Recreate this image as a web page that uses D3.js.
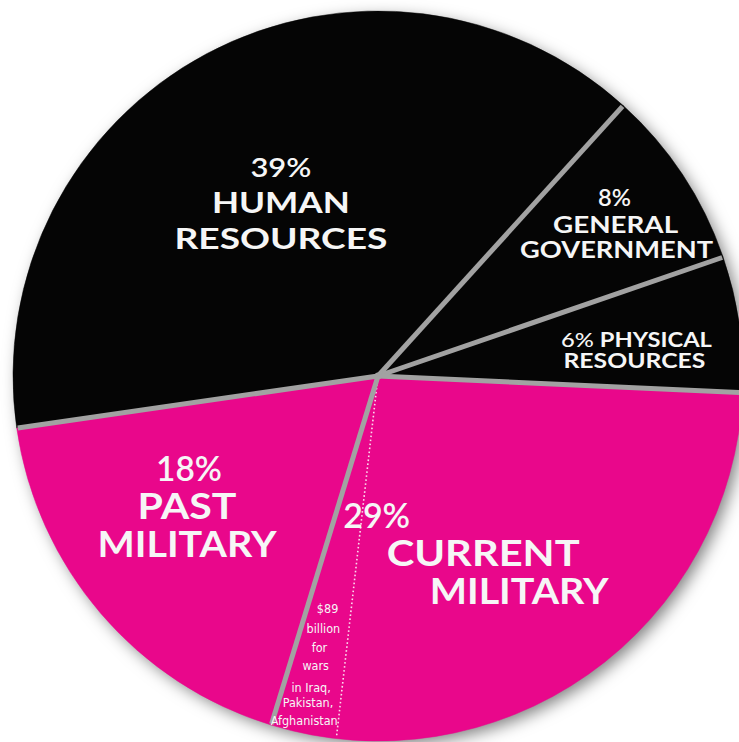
<!DOCTYPE html>
<html>
<head>
<meta charset="utf-8">
<script src="https://cdn.jsdelivr.net/npm/d3@7"></script>
<style>
  html, body { margin: 0; padding: 0; background: #fff; }
  svg { display: block; }
  text { font-family: 'Lato', 'Open Sans', sans-serif; fill: #f6f6f6; }
  .small { font-family: 'Liberation Sans Narrow', 'DejaVu Sans Condensed', 'Roboto', sans-serif; font-stretch: condensed; }
</style>
</head>
<body>
<svg></svg>
<script>
// where the federal income tax dollar goes (percent of total)
const categories = ['HUMAN RESOURCES', 'GENERAL GOVERNMENT', 'PHYSICAL RESOURCES', 'CURRENT MILITARY', 'PAST MILITARY']
const percents = [39, 8, 6, 29, 18]
const groups = ['civil', 'civil', 'civil', 'military', 'military']
// part of current military spent on the wars
const warsBillions = 89
const warsShare = 2.9
const warsNote = [`$${warsBillions}`, 'billion', 'for', 'wars', 'in Iraq,', 'Pakistan,', 'Afghanistan']

const width = 739, height = 742
const cx = 378, cy = 376, R = 365
const startDeg = 261.8
const rad = d => d * Math.PI / 180

const colors = { civil: '#050505', military: '#e9078b' }

const svg = d3.select('svg')
  .attr('width', width)
  .attr('height', height)

const defs = svg.append('defs')
const shadow = defs.append('filter').attr('id', 'shadow')
  .attr('x', '-10%').attr('y', '-10%').attr('width', '120%').attr('height', '120%')
shadow.append('feDropShadow')
  .attr('dx', 5).attr('dy', 5).attr('stdDeviation', 8)
  .attr('flood-color', '#000').attr('flood-opacity', 0.5)

const g = svg.append('g').attr('transform', `translate(${cx},${cy})`)

const data = categories.map((c, i) => ({ name: c, value: percents[i], group: groups[i] }))

const pie = d3.pie()
  .sort(null)
  .value(d => d.value)
  .startAngle(rad(startDeg))
  .endAngle(rad(startDeg) + 2 * Math.PI)

const arcs = pie(data)
const arc = d3.arc().innerRadius(0).outerRadius(R)

// disc behind everything carries the shadow
g.append('circle').attr('r', R - 1).attr('fill', '#000').attr('filter', 'url(#shadow)')

g.selectAll('path.slice')
  .data(arcs).enter().append('path')
  .attr('class', 'slice')
  .attr('d', arc)
  .attr('fill', d => colors[d.data.group])
  .attr('stroke', d => colors[d.data.group])
  .attr('stroke-width', 0.5)

// wars wedge sits at the end of current military
const cur = arcs[3]
const warsStart = cur.endAngle - warsShare / 100 * 2 * Math.PI
const pt = (a, r) => [r * Math.sin(a), -r * Math.cos(a)]

g.append('line')
  .attr('x1', 0).attr('y1', 0)
  .attr('x2', pt(warsStart, R - 2)[0]).attr('y2', pt(warsStart, R - 2)[1])
  .attr('stroke', '#fff')
  .attr('stroke-opacity', 0.85)
  .attr('stroke-width', 1.6)
  .attr('stroke-dasharray', '1.6 2.4')

// grey separators
g.selectAll('line.sep')
  .data(arcs).enter().append('line')
  .attr('class', 'sep')
  .attr('x1', 0).attr('y1', 0)
  .attr('x2', d => pt(d.startAngle, R - 1)[0])
  .attr('y2', d => pt(d.startAngle, R - 1)[1])
  .attr('stroke', '#a2a2a2')
  .attr('stroke-width', 5)
g.append('circle').attr('r', 3.5).attr('fill', '#a2a2a2')

// labels: anchor at centroid of a label ring, lines offset from there
// w = width the line is stretched to (the original face is wide)
const labels = [
  { k: 0.52, dx: -8, dy: 5, lines: [
    { t: '39%', y: -36, s: 26, fw: 600, w: 61 },
    { t: 'HUMAN', y: 0, s: 29, fw: 700, w: 138 },
    { t: 'RESOURCES', y: 36, s: 29, fw: 700, w: 213 }] },
  { k: 0.76, dx: 6, dy: 9.5, lines: [
    { t: '8%', y: -27, s: 22, fw: 600, x: -1, w: 33 },
    { t: 'GENERAL', y: 0, s: 23, fw: 700, w: 125 },
    { t: 'GOVERNMENT', y: 25, s: 23, fw: 700, x: 1, w: 193 }] },
  { k: 0.707, dx: 3, dy: 18, lines: [
    { t: 'PHYSICAL', pre: '6% ', y: -10, s: 20, fw: 700, w: 151 },
    { t: 'RESOURCES', y: 11, s: 20, fw: 700, x: -2, w: 142 }] },
  { k: 0.595, dx: -20, dy: 13, lines: [
    { t: '29%', y: -38, s: 35, fw: 600, x: -140, anchor: 'start', w: 67 },
    { t: 'CURRENT', y: 0, s: 36, fw: 700, w: 193 },
    { t: 'MILITARY', y: 38, s: 36, fw: 700, x: 36, w: 179 }] },
  { k: 0.655, dx: -9.5, dy: -12.5, lines: [
    { t: '18%', y: -38, s: 35, fw: 600, x: 2, w: 66 },
    { t: 'PAST', y: 0, s: 36, fw: 700, w: 99 },
    { t: 'MILITARY', y: 38, s: 36, fw: 700, w: 179 }] }
]

labels.forEach((lab, i) => {
  const a = arcs[i]
  const ring = d3.arc().innerRadius(R * lab.k).outerRadius(R * lab.k)
  const [ax, ay] = ring.centroid(a)
  lab.lines.forEach(l => {
    const txt = g.append('text')
      .attr('x', ax + lab.dx + (l.x || 0))
      .attr('y', ay + lab.dy + l.y)
      .attr('text-anchor', l.anchor || 'middle')
      .attr('font-size', l.s)
      .attr('font-weight', l.fw)
      .attr('textLength', l.w)
      .attr('lengthAdjust', 'spacingAndGlyphs')
    if (l.pre) txt.append('tspan').attr('font-weight', 500).text(l.pre)
    txt.append('tspan').text(l.t)
  })
})

// small note inside the wars wedge, centred on its middle angle
const warsMid = (warsStart + cur.endAngle) / 2
const noteY = [237, 257, 276, 294, 316, 331, 349]
g.selectAll('text.small')
  .data(warsNote).enter().append('text')
  .attr('class', 'small')
  .attr('x', (d, i) => -noteY[i] * Math.tan(warsMid - Math.PI) - 1)
  .attr('y', (d, i) => noteY[i])
  .attr('text-anchor', 'middle')
  .attr('font-size', 12.5)
  .attr('fill', '#fbe6f1')
  .text(d => d)
</script>
</body>
</html>
